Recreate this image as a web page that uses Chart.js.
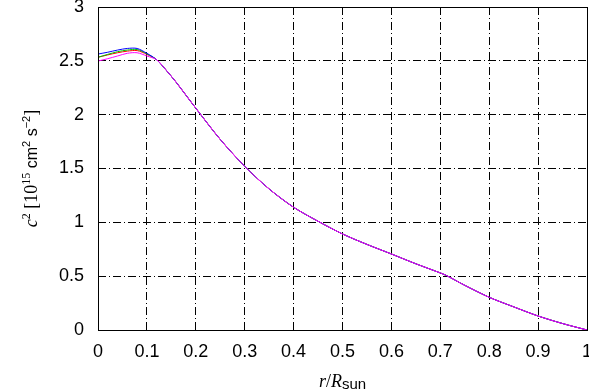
<!DOCTYPE html>
<html><head><meta charset="utf-8">
<script src="https://cdn.jsdelivr.net/npm/chart.js@4"></script>
<style>html,body{margin:0;padding:0;background:#fff}#wrap{width:589px;height:391px;position:relative}</style>
</head><body><div id="wrap"><canvas id="c"></canvas></div>
<script>
// core region (models differ)
const rCore = [0, 0.02, 0.04, 0.06, 0.08, 0.10];
const c2Red = [2.533, 2.555, 2.575, 2.590, 2.595, 2.560];
const c2Green = [2.533, 2.560, 2.585, 2.600, 2.605, 2.565];
const c2Blue = [2.563, 2.580, 2.600, 2.615, 2.615, 2.570];
const c2Magenta = [2.498, 2.520, 2.545, 2.570, 2.575, 2.545];
// outer region (models coincide)
const rOuter = [0.12, 0.14, 0.16, 0.18, 0.20, 0.25, 0.30, 0.35, 0.40, 0.45, 0.50, 0.55, 0.60, 0.65, 0.70, 0.713, 0.75, 0.80, 0.85, 0.90, 0.95, 1.00];
const c2Outer = [2.51, 2.41, 2.30, 2.18, 2.06, 1.77, 1.52, 1.31, 1.14, 1.01, 0.892, 0.795, 0.706, 0.615, 0.53, 0.505, 0.415, 0.304, 0.215, 0.13, 0.06, 0.0];
const xTickVals = [0, 0.1, 0.2, 0.3, 0.4, 0.5, 0.6, 0.7, 0.8, 0.9, 1];
const xTickLabels = ['0', '0.1', '0.2', '0.3', '0.4', '0.5', '0.6', '0.7', '0.8', '0.9', '1'];
const yTickVals = [0, 0.5, 1, 1.5, 2, 2.5, 3];
const yTickLabels = ['0', '0.5', '1', '1.5', '2', '2.5', '3'];

function series(core) {
  const pts = rCore.map((r, i) => ({x: r, y: core[i]}));
  return pts.concat(rOuter.map((r, i) => ({x: r, y: c2Outer[i]})));
}
const SERIF = '"Liberation Serif", "DejaVu Serif", serif';
const SANS = '"Liberation Sans", Arial, sans-serif';

function drawSegs(ctx, segs, cx, baseline) {
  let total = 0;
  segs.forEach(s => { ctx.font = s.f; s.w = ctx.measureText(s.t).width; total += s.w; });
  let x = cx - total / 2;
  ctx.textBaseline = 'alphabetic';
  ctx.textAlign = 'left';
  segs.forEach(s => { ctx.font = s.f; ctx.fillText(s.t, x, baseline + (s.dy || 0)); x += s.w; });
}

const titles = {
  id: 'titles',
  afterDraw(chart) {
    const ctx = chart.ctx, a = chart.chartArea;
    ctx.save();
    ctx.fillStyle = '#000';
    // x title
    drawSegs(ctx, [
      {t: 'r', f: 'italic 18px ' + SERIF},
      {t: '/', f: '18px ' + SERIF},
      {t: 'R', f: 'italic 18px ' + SERIF},
      {t: 'sun', f: '15px ' + SANS, dy: 2}
    ], (a.left + a.right) / 2, 387);
    // y title
    ctx.translate(37, (a.top + a.bottom) / 2);
    ctx.rotate(-Math.PI / 2);
    drawSegs(ctx, [
      {t: 'c', f: 'italic 18px ' + SERIF},
      {t: '2', f: '12px ' + SERIF, dy: -7},
      {t: ' [10', f: '18px ' + SERIF},
      {t: '15', f: '12px ' + SERIF, dy: -7},
      {t: ' cm', f: '16px ' + SANS},
      {t: '2', f: '11px ' + SANS, dy: -7},
      {t: ' s', f: '16px ' + SANS},
      {t: '\u22122', f: '11px ' + SANS, dy: -7},
      {t: ']', f: '18px ' + SERIF}
    ], 0, 0);
    ctx.restore();
  }
};
const frame = {
  id: 'frame',
  afterDatasetsDraw(chart) {
    const ctx = chart.ctx, a = chart.chartArea;
    ctx.save();
    ctx.strokeStyle = '#000';
    ctx.lineWidth = 1;
    ctx.setLineDash([]);
    ctx.strokeRect(Math.round(a.left) + 0.5, Math.round(a.top) + 0.5, Math.round(a.right - a.left), Math.round(a.bottom - a.top));
    ctx.restore();
  }
};

const ds = (label, core, color) => ({
  label, data: series(core), borderColor: color, borderWidth: 1,
  pointRadius: 0, tension: 0.3, fill: false
});

new Chart(document.getElementById('c'), {
  type: 'line',
  data: {
    datasets: [
      ds('magenta', c2Magenta, '#ff00ff'),
      ds('blue', c2Blue, '#0000ff'),
      ds('green', c2Green, '#00c000'),
      ds('red', c2Red, '#ff0000')
    ]
  },
  options: {
    responsive: true, maintainAspectRatio: false, animation: false,
    layout: {padding: {top: 7, right: 2, left: 0, bottom: 0}},
    plugins: {legend: {display: false}, tooltip: {enabled: false}},
    scales: {
      x: {
        type: 'linear', min: 0, max: 1,
        afterBuildTicks: s => { s.ticks = xTickVals.map(v => ({value: v})); },
        afterFit: s => { s.height = 61; s.paddingLeft = 0; s.paddingRight = 0; },
        ticks: {
          callback: (v, i) => xTickLabels[i], color: '#000', padding: 11, maxRotation: 0, autoSkip: false,
          font: {family: SANS, size: 18}
        },
        grid: {color: '#000', lineWidth: 1, drawTicks: false},
        border: {display: false, dash: [8, 3, 1, 3]}
      },
      y: {
        type: 'linear', min: 0, max: 3,
        afterBuildTicks: s => { s.ticks = yTickVals.map(v => ({value: v})); },
        afterFit: s => { s.width = 98; s.paddingTop = 0; s.paddingBottom = 0; },
        ticks: {
          callback: (v, i) => yTickLabels[i], color: '#000', padding: 14, autoSkip: false,
          font: {family: SANS, size: 18}
        },
        grid: {color: '#000', lineWidth: 1, drawTicks: false},
        border: {display: false, dash: [8, 3, 1, 3]}
      }
    }
  },
  plugins: [titles, frame]
});
</script></body></html>
